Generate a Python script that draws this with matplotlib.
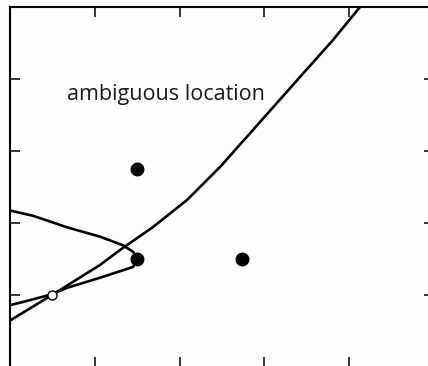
import matplotlib
matplotlib.use("Agg")
import matplotlib.pyplot as plt

# Rising curve (data coordinates)
curve_a_x = [-0.03, 0.008, 0.492, 1.059, 1.295, 1.685, 2.086, 2.476, 2.865, 3.420, 3.810, 4.129, 4.17]
curve_a_y = [0.626, 0.653, 1.000, 1.417, 1.625, 1.944, 2.319, 2.778, 3.292, 4.028, 4.542, 5.000, 5.06]

# Folded curve: upper branch to the tip, then lower branch back
curve_b_x = [-0.03, 0.27, 0.67, 1.06, 1.33, 1.45, 1.50, 1.45, 1.06, 0.67, 0.49, 0.27, -0.03]
curve_b_y = [2.18, 2.10, 1.94, 1.81, 1.69, 1.60, 1.50, 1.39, 1.24, 1.10, 1.01, 0.94, 0.85]

filled_x = [1.5, 1.5, 2.74]
filled_y = [2.75, 1.5, 1.5]
open_x = [0.49]
open_y = [1.0]

label = "ambiguous location"
xticks = [1, 2, 3, 4]
yticks = [1, 2, 3, 4]

W, H = 428, 366
fig = plt.figure(figsize=(W / 100, H / 100), dpi=100)
fig.patch.set_facecolor("#fdfdfd")
ax = fig.add_axes([10.3 / W, -1 / H, 423.5 / W, 360 / H])
ax.set_facecolor("#fdfdfd")
ax.set_xlim(0, 5)
ax.set_ylim(0, 5)

ax.plot(curve_a_x, curve_a_y, color="black", lw=1.9, solid_joinstyle="round", zorder=2)
ax.plot(curve_b_x, curve_b_y, color="black", lw=1.9, solid_joinstyle="round", zorder=2)
ax.plot(filled_x, filled_y, "o", color="black", ms=9, zorder=3)
ax.plot(open_x, open_y, "o", mfc="white", mec="black", mew=1.0, ms=6.5, zorder=4)

ax.text(1.832, 3.708, label, fontsize=15.5, family=["Open Sans", "DejaVu Sans"],
        ha="center", va="baseline", color="#1a1a1a")

ax.set_xticks(xticks)
ax.set_yticks(yticks)
ax.set_xticklabels([])
ax.set_yticklabels([])
ax.tick_params(direction="in", length=7.2, width=1.1, top=True, right=True,
               bottom=True, left=True, color="black")
for s in ["right", "bottom"]:
    ax.spines[s].set_visible(False)
for s in ["top", "left"]:
    ax.spines[s].set_linewidth(1.5)

fig.savefig("out.png", dpi=100, facecolor=fig.get_facecolor())
